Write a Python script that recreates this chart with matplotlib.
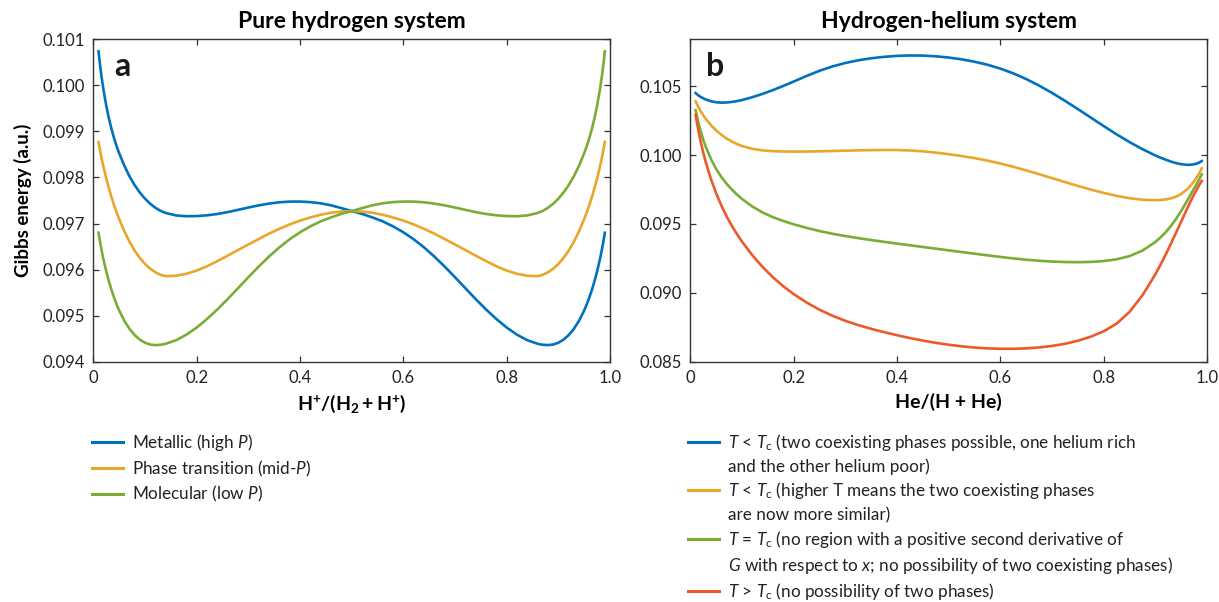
import matplotlib.pyplot as plt
from matplotlib.lines import Line2D

plt.rcParams['font.family'] = ['Lato', 'DejaVu Sans']
plt.rcParams['mathtext.fontset'] = 'custom'
plt.rcParams['mathtext.rm'] = 'Lato'
plt.rcParams['mathtext.it'] = 'Lato:italic'
plt.rcParams['mathtext.bf'] = 'Lato:bold'

# ---- panel a: pure hydrogen ----
x_pure = [0.01, 0.0125, 0.015, 0.0175, 0.02, 0.025, 0.03, 0.035, 0.04, 0.045,
          0.05, 0.06, 0.07, 0.08, 0.09, 0.10, 0.11, 0.12, 0.13, 0.14,
          0.16, 0.18, 0.20, 0.22, 0.24, 0.26, 0.28, 0.30, 0.32, 0.34,
          0.36, 0.38, 0.40, 0.42, 0.44, 0.46, 0.48, 0.50,
          0.52, 0.54, 0.56, 0.58, 0.60, 0.62, 0.64, 0.66, 0.68, 0.70,
          0.72, 0.74, 0.76, 0.78, 0.80, 0.82, 0.84, 0.86, 0.87, 0.88,
          0.89, 0.90, 0.91, 0.92, 0.93, 0.94, 0.95, 0.955, 0.96, 0.965,
          0.97, 0.975, 0.98, 0.9825, 0.985, 0.9875, 0.99]
g_metallic = [0.10074, 0.100483, 0.100256, 0.100055, 0.099874, 0.099556, 0.099288, 0.099056, 0.098855, 0.098679,
              0.098524, 0.098254, 0.098024, 0.097832, 0.097672, 0.097539, 0.09743, 0.097342, 0.097275, 0.097229,
              0.097176, 0.097158, 0.097162, 0.097178, 0.097207, 0.097248, 0.097297, 0.097347, 0.097394, 0.097433,
              0.097461, 0.097476, 0.097477, 0.097465, 0.097439, 0.097395, 0.097335, 0.09727,
              0.09721, 0.097133, 0.097047, 0.096939, 0.09681, 0.096658, 0.096482, 0.096283, 0.096065, 0.095834,
              0.095596, 0.09536, 0.095135, 0.094927, 0.094742, 0.094586, 0.094466, 0.094388, 0.094367, 0.09436,
              0.094372, 0.094411, 0.094478, 0.094577, 0.094712, 0.094887, 0.095111, 0.095244, 0.095393, 0.09556,
              0.095747, 0.095958, 0.096198, 0.096331, 0.096475, 0.09663, 0.0968]
g_transition = [0.09877, 0.098617, 0.098468, 0.098336, 0.098208, 0.097976, 0.097767, 0.097575, 0.097402, 0.097242,
                0.097096, 0.09683, 0.096603, 0.09641, 0.096251, 0.096121, 0.096019, 0.095942, 0.095887, 0.095857,
                0.095866, 0.095908, 0.095979, 0.096073, 0.096184, 0.096303, 0.096424, 0.096545, 0.096663, 0.09678,
                0.096885, 0.09698, 0.097063, 0.097132, 0.09719, 0.097234, 0.097261, 0.09727,
                0.097261, 0.097234, 0.09719, 0.097132, 0.097063, 0.09698, 0.096885, 0.09678, 0.096663, 0.096545,
                0.096424, 0.096303, 0.096184, 0.096073, 0.095979, 0.095908, 0.095866, 0.095857, 0.095887, 0.095942,
                0.096019, 0.096121, 0.096251, 0.09641, 0.096603, 0.09683, 0.097096, 0.097242, 0.097402, 0.097575,
                0.097767, 0.097976, 0.098208, 0.098336, 0.098468, 0.098617, 0.09877]
g_molecular = [0.0968, 0.09663, 0.096475, 0.096331, 0.096198, 0.095958, 0.095747, 0.09556, 0.095393, 0.095244,
               0.095111, 0.094887, 0.094712, 0.094577, 0.094478, 0.094411, 0.094372, 0.09436, 0.094367, 0.094388,
               0.094466, 0.094586, 0.094742, 0.094927, 0.095135, 0.09536, 0.095596, 0.095834, 0.096065, 0.096283,
               0.096482, 0.096658, 0.09681, 0.096939, 0.097047, 0.097133, 0.09721, 0.09727,
               0.097335, 0.097395, 0.097439, 0.097465, 0.097477, 0.097476, 0.097461, 0.097433, 0.097394, 0.097347,
               0.097297, 0.097248, 0.097207, 0.097178, 0.097162, 0.097158, 0.097176, 0.097229, 0.097275, 0.097342,
               0.09743, 0.097539, 0.097672, 0.097832, 0.098024, 0.098254, 0.098524, 0.098679, 0.098855, 0.099056,
               0.099288, 0.099556, 0.099874, 0.100055, 0.100256, 0.100483, 0.10074]
labels_pure = ['Metallic (high $P$)', 'Phase transition (mid-$P$)', 'Molecular (low $P$)']

# ---- panel b: hydrogen-helium ----
x_hhe = [0.01, 0.015, 0.02, 0.025, 0.03, 0.04, 0.05, 0.06, 0.07, 0.08,
         0.09, 0.10, 0.12, 0.14, 0.16, 0.18, 0.20, 0.225, 0.25, 0.275,
         0.30, 0.325, 0.35, 0.375, 0.40, 0.425, 0.45, 0.475, 0.50, 0.525,
         0.55, 0.575, 0.60, 0.625, 0.65, 0.675, 0.70, 0.725, 0.75, 0.775,
         0.80, 0.825, 0.85, 0.875, 0.90, 0.91, 0.92, 0.93, 0.94, 0.95,
         0.96, 0.965, 0.97, 0.975, 0.98, 0.985, 0.99]
g_below_1 = [0.1045, 0.10434, 0.104214, 0.104112, 0.104028, 0.103903, 0.103828, 0.103803, 0.103816, 0.103855,
             0.103915, 0.103995, 0.1042, 0.104445, 0.10472, 0.105018, 0.105336, 0.105742, 0.106117, 0.106432,
             0.106682, 0.106877, 0.107024, 0.107129, 0.107197, 0.107227, 0.107217, 0.107167, 0.107077, 0.106947,
             0.106774, 0.106554, 0.106275, 0.105929, 0.105517, 0.105042, 0.104512, 0.103939, 0.103338, 0.102722,
             0.102105, 0.101504, 0.100941, 0.100429, 0.099973, 0.09981, 0.099665, 0.09953, 0.099415, 0.099335,
             0.099295, 0.09929, 0.0993, 0.099328, 0.099378, 0.099455, 0.099565]
g_below_2 = [0.1039, 0.103508, 0.10317, 0.102873, 0.102608, 0.102153, 0.101778, 0.101465, 0.101203, 0.100983,
             0.1008, 0.100653, 0.100448, 0.100335, 0.100279, 0.100255, 0.100249, 0.100254, 0.100269, 0.100291,
             0.100316, 0.100339, 0.100357, 0.100367, 0.100362, 0.100332, 0.10027, 0.100176, 0.10006, 0.099927,
             0.099775, 0.099595, 0.099385, 0.099147, 0.098887, 0.098611, 0.098326, 0.09804, 0.09776, 0.097495,
             0.09725, 0.097035, 0.096865, 0.096758, 0.096723, 0.096735, 0.096775, 0.096848, 0.096973, 0.097173,
             0.097458, 0.097638, 0.097848, 0.09809, 0.098368, 0.09868, 0.099028]
g_critical = [0.10325, 0.102408, 0.101703, 0.101095, 0.100565, 0.09968, 0.098975, 0.0984, 0.097918, 0.0975,
              0.097133, 0.096808, 0.096258, 0.095823, 0.095483, 0.095208, 0.094973, 0.09471, 0.09448, 0.094286,
              0.094119, 0.093968, 0.093828, 0.093697, 0.093572, 0.093449, 0.093327, 0.093204, 0.093082, 0.092959,
              0.092838, 0.092719, 0.092604, 0.092497, 0.092402, 0.092324, 0.092268, 0.092234, 0.092223, 0.092242,
              0.092305, 0.09243, 0.092661, 0.093061, 0.093686, 0.094011, 0.094391, 0.094836, 0.095351, 0.095931,
              0.096566, 0.096896, 0.097226, 0.097558, 0.097896, 0.098241, 0.098596]
g_above = [0.10292, 0.101858, 0.100945, 0.100145, 0.099438, 0.098223, 0.097203, 0.096323, 0.095553, 0.094873,
           0.094263, 0.093708, 0.092718, 0.091858, 0.091113, 0.090468, 0.089903, 0.08929, 0.088771, 0.088334,
           0.087965, 0.087653, 0.087384, 0.087144, 0.08692, 0.086714, 0.08653, 0.086369, 0.08623, 0.086115,
           0.086026, 0.085966, 0.085936, 0.085936, 0.085967, 0.086033, 0.086141, 0.086298, 0.086518, 0.086814,
           0.087202, 0.087758, 0.088608, 0.089808, 0.091333, 0.092028, 0.092768, 0.093543, 0.094343, 0.095158,
           0.095973, 0.096373, 0.096763, 0.097136, 0.097486, 0.097816, 0.098126]
labels_hhe = [
    ['$T$ < $T_{\\mathrm{c}}$ (two coexisting phases possible, one helium rich',
     'and the other helium poor)'],
    ['$T$ < $T_{\\mathrm{c}}$ (higher T means the two coexisting phases',
     'are now more similar)'],
    ['$T$ = $T_{\\mathrm{c}}$ (no region with a positive second derivative of',
     '$G$ with respect to $x$; no possibility of two coexisting phases)'],
    ['$T$ > $T_{\\mathrm{c}}$ (no possibility of two phases)'],
]

blue, gold, green, red = '#0072BD', '#E9A62A', '#7AAD35', '#EC5A2A'
spine_col = '#333333'

fig = plt.figure(figsize=(12.19, 6.02), dpi=100)
ax_a = fig.add_axes([0.0766, 0.3992, 0.4238, 0.5355])
ax_b = fig.add_axes([0.5664, 0.3992, 0.4237, 0.5355])


def style(ax):
    for s in ax.spines.values():
        s.set_color(spine_col)
        s.set_linewidth(1.0)
    ax.tick_params(direction='in', top=True, right=True, length=4, width=0.9,
                   color=spine_col, labelsize=12, labelcolor='#222222', pad=6)
    ax.set_xlim(0, 1.0)
    ax.set_xticks([0, 0.2, 0.4, 0.6, 0.8, 1.0])
    ax.set_xticklabels(['0', '0.2', '0.4', '0.6', '0.8', '1.0'])


lw = 1.9
ax_a.plot(x_pure, g_metallic, color=blue, lw=lw)
ax_a.plot(x_pure, g_transition, color=gold, lw=lw)
ax_a.plot(x_pure, g_molecular, color=green, lw=lw)
style(ax_a)
ax_a.set_ylim(0.094, 0.101)
ax_a.set_yticks([0.094, 0.095, 0.096, 0.097, 0.098, 0.099, 0.100, 0.101])
ax_a.set_yticklabels(['%.3f' % v for v in ax_a.get_yticks()])
ax_a.set_title('Pure hydrogen system', fontsize=16.5, fontweight='bold', pad=8)
ax_a.set_xlabel(r'$\mathbf{H^{+}/(H_{2}+H^{+})}$', fontsize=14, labelpad=5)
ax_a.set_ylabel('Gibbs energy (a.u.)', fontsize=13.5, fontweight='bold', labelpad=8)
ax_a.text(0.041, 0.886, 'a', transform=ax_a.transAxes, fontsize=23, fontweight='bold',
          color='#1a1a1a')

ax_b.plot(x_hhe, g_below_1, color=blue, lw=lw)
ax_b.plot(x_hhe, g_below_2, color=gold, lw=lw)
ax_b.plot(x_hhe, g_critical, color=green, lw=lw)
ax_b.plot(x_hhe, g_above, color=red, lw=lw)
style(ax_b)
ax_b.set_ylim(0.085, 0.1084)
ax_b.set_yticks([0.085, 0.090, 0.095, 0.100, 0.105])
ax_b.set_yticklabels(['%.3f' % v for v in ax_b.get_yticks()])
ax_b.set_title('Hydrogen-helium system', fontsize=16.5, fontweight='bold', pad=8)
ax_b.set_xlabel('He/(H + He)', fontsize=14, fontweight='bold', labelpad=5)
ax_b.text(0.030, 0.886, 'b', transform=ax_b.transAxes, fontsize=23, fontweight='bold',
          color='#1a1a1a')

# legends below each panel
h_a = [Line2D([], [], color=c, lw=2.2) for c in (blue, gold, green)]
ax_a.legend(h_a, labels_pure, loc='upper left', bbox_to_anchor=(-0.003, -0.218),
            frameon=False, fontsize=12.3, handlelength=1.85, handletextpad=0.5,
            labelspacing=0.32, borderpad=0, borderaxespad=0, labelcolor='#222222')

h_b, l_b = [], []
for c, lines in zip((blue, gold, green, red), labels_hhe):
    h_b.append(Line2D([], [], color=c, lw=2.2))
    l_b.append(lines[0])
    for extra in lines[1:]:
        h_b.append(Line2D([], [], color='none'))
        l_b.append(extra)
ax_b.legend(h_b, l_b, loc='upper left', bbox_to_anchor=(-0.005, -0.218),
            frameon=False, fontsize=12.3, handlelength=1.85, handletextpad=0.5,
            labelspacing=0.32, borderpad=0, borderaxespad=0, labelcolor='#222222')

fig.savefig('out.png', dpi=100)
